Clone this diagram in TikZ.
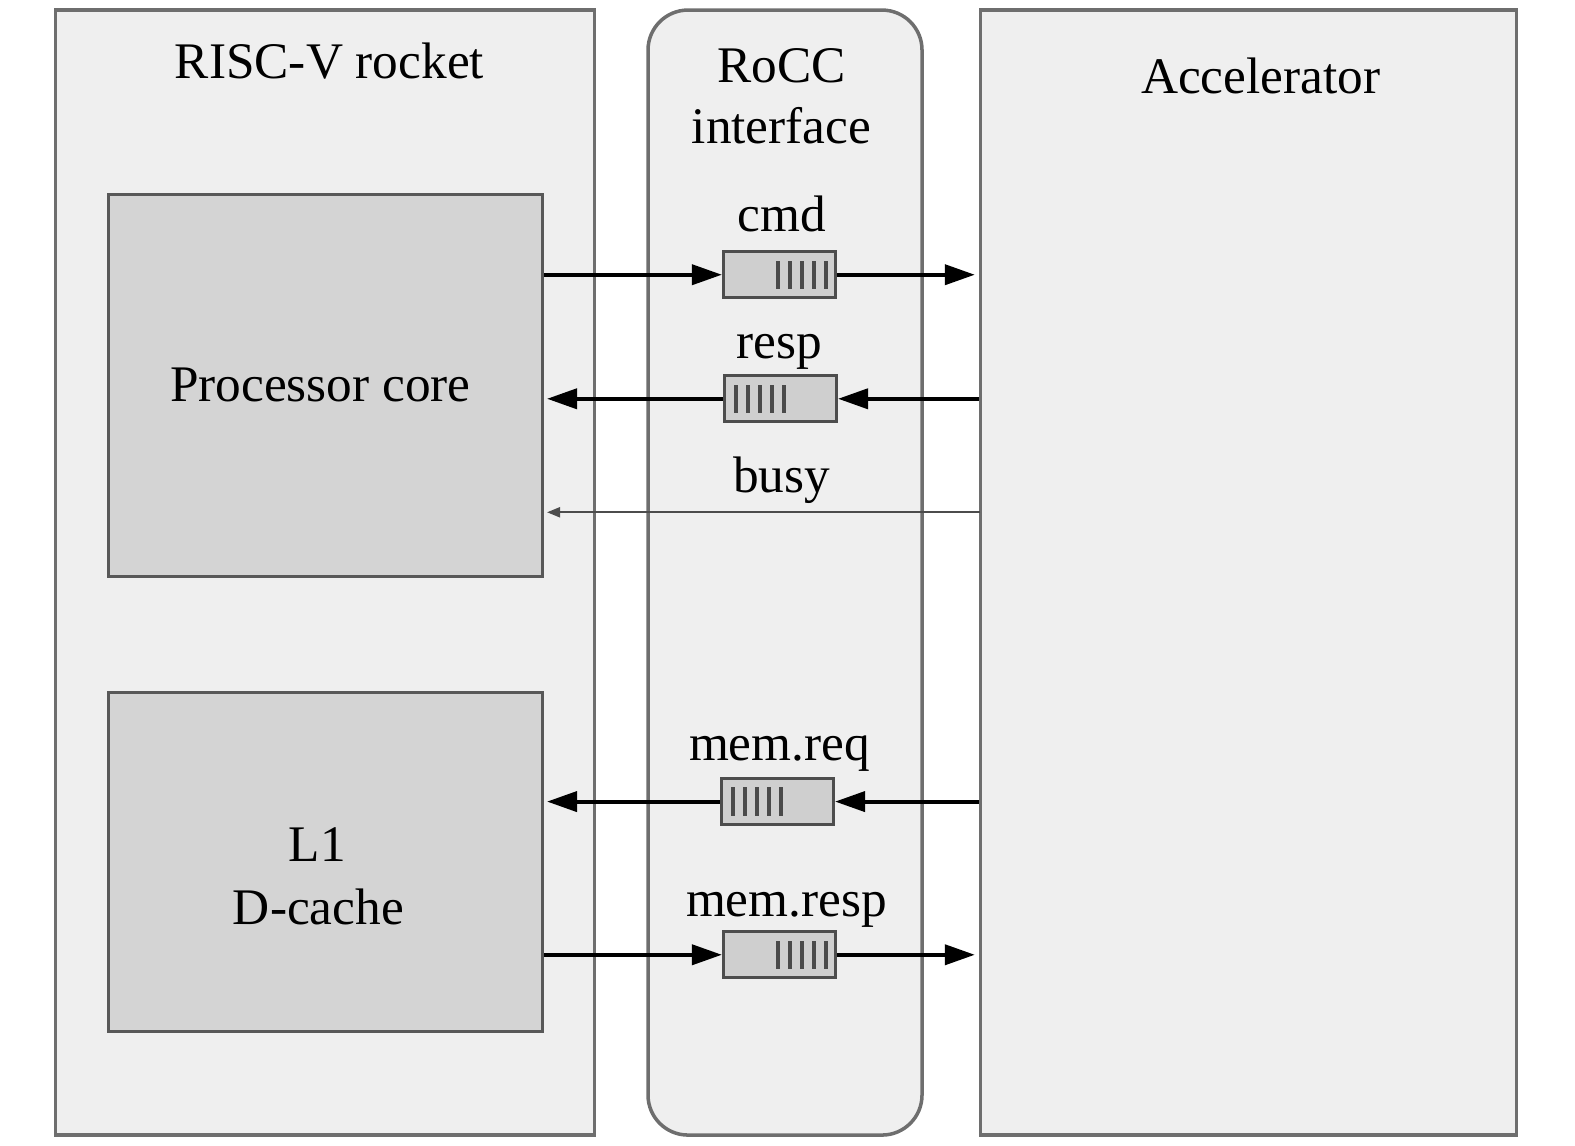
\documentclass[tikz,border=0pt]{standalone}
\usepackage{fontspec}
\setmainfont{Liberation Serif}
\usepackage{xcolor}
\usetikzlibrary{arrows.meta,positioning,calc}

\definecolor{panelfill}{HTML}{EFEFEF}
\definecolor{panelline}{HTML}{6E6E6E}
\definecolor{blockfill}{HTML}{D4D4D4}
\definecolor{queuefill}{HTML}{CFCFCF}
\definecolor{barcol}{HTML}{4A4A4A}

\begin{document}
\begin{tikzpicture}[
x=1.0045cm, y=1.0045cm,
font=\fontsize{14.6}{17.5}\selectfont,
panel/.style={draw=panelline, fill=panelfill, line width=1pt, minimum width=#1, minimum height=11.25cm, inner sep=0pt},
block/.style={draw=panelline!80!black, fill=blockfill, line width=0.9pt, minimum width=4.34cm, inner sep=0pt},
queue/.style={draw=panelline!70!black, fill=queuefill, line width=0.9pt, minimum width=1.12cm, minimum height=0.46cm, inner sep=0pt},
bar/.style={draw=barcol, line width=1.3pt},
lbl/.style={anchor=base, inner sep=0pt},
arr/.style={-{Triangle[length=3mm,width=2mm]}, line width=1.1pt},
thinarr/.style={-{Triangle[length=1.3mm,width=1mm]}, line width=0.6pt, draw=black!70}
]
\useasboundingbox (0,0) rectangle (15.75cm,-11.46cm);

% Panels
\node[panel=5.39cm] (rocket) at (3.235,-5.70) {};
\node[panel=2.74cm, rounded corners=0.4cm] (rocc) at (7.815,-5.70) {};
\node[panel=5.36cm] (acc) at (12.43,-5.70) {};

\node[lbl] (rockettitle) at (3.28,-0.78) {RISC-V rocket};
\node[lbl] (rocctitle1) at (7.78,-0.82) {RoCC};
\node[lbl] (rocctitle2) at (7.78,-1.43) {interface};
\node[lbl] (acctitle) at (12.55,-0.93) {Accelerator};

% Blocks inside the rocket
\node[block, minimum height=3.82cm] (core) at (3.24,-3.84) {};
\node[lbl] (coretext) at (3.19,-4.00) {Processor core};
\node[block, minimum height=3.39cm] (cache) at (3.24,-8.585) {};
\node[lbl] (cachetext1) at (3.16,-8.58) {L1};
\node[lbl] (cachetext2) at (3.17,-9.20) {D-cache};

% Queues
\node[queue] (cmdq) at (7.76,-2.735) {};
\node[queue] (respq) at (7.77,-3.97) {};
\node[queue] (memreqq) at (7.74,-7.98) {};
\node[queue] (memrespq) at (7.76,-9.505) {};

\node[lbl] (cmdlbl) at (7.78,-2.30) {cmd};
\node[lbl] (resplbl) at (7.76,-3.57) {resp};
\node[lbl] (busylbl) at (7.78,-4.90) {busy};
\node[lbl] (memreqlbl) at (7.76,-7.57) {mem.req};
\node[lbl] (memresplbl) at (7.83,-9.12) {mem.resp};

% Queue slots
\foreach \q in {cmdq,memrespq}
  \foreach \i in {0,...,4}
    \draw[bar] ([xshift=-0.11cm-\i*0.12cm,yshift=-0.14cm]\q.east) -- ++(0,0.28);
\foreach \q in {respq,memreqq}
  \foreach \i in {0,...,4}
    \draw[bar] ([xshift=0.13cm+\i*0.12cm,yshift=-0.14cm]\q.west) -- ++(0,0.28);

% Connections
\coordinate (busyin) at (9.76,-5.10);

\draw[arr] (core.east |- cmdq.west) -- (cmdq.west);
\draw[arr] (cmdq.east) -- ([xshift=-0.04cm]acc.west |- cmdq.east);

\draw[arr] (acc.west |- respq.east) -- (respq.east);
\draw[arr] (respq.west) -- ([xshift=0.03cm]core.east |- respq.west);

\draw[thinarr] (busyin) -- ([xshift=0.03cm]core.east |- busyin);

\draw[arr] (acc.west |- memreqq.east) -- (memreqq.east);
\draw[arr] (memreqq.west) -- ([xshift=0.03cm]cache.east |- memreqq.west);

\draw[arr] (cache.east |- memrespq.west) -- (memrespq.west);
\draw[arr] (memrespq.east) -- ([xshift=-0.04cm]acc.west |- memrespq.east);

\end{tikzpicture}
\end{document}
